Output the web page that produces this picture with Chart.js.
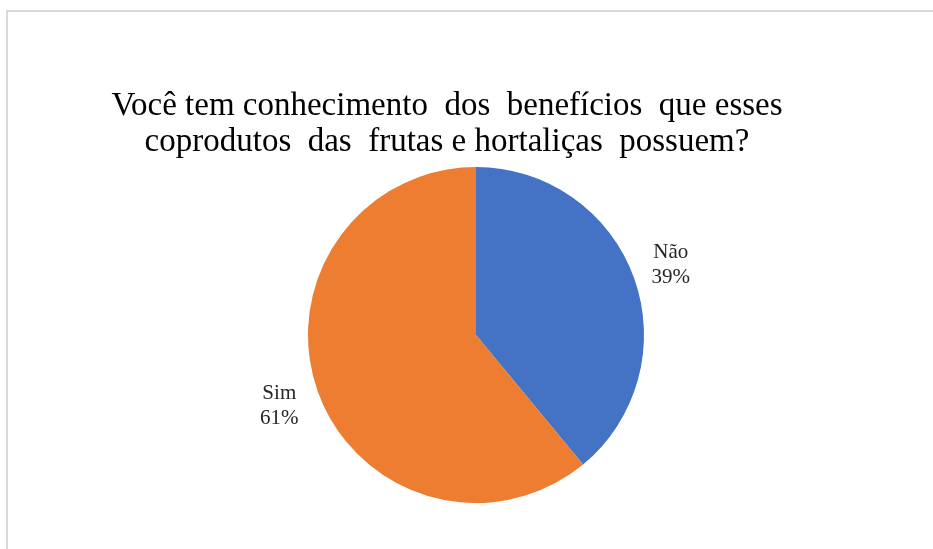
<!DOCTYPE html>
<html lang="pt-br">

<head>
    <meta charset="UTF-8">
    <title>Conhecimento dos benefícios</title>
    <script src="https://cdn.jsdelivr.net/npm/chart.js@4.4.0/dist/chart.umd.min.js"></script>
    <style>
        body {
            margin: 0;
            background: #fff;
        }

        .moldura {
            position: absolute;
            left: 6px;
            top: 10px;
            right: 0;
            bottom: 0;
            border-top: 2px solid #d9d9d9;
            border-left: 2px solid #d9d9d9;
        }

        #grafico {
            position: absolute;
            left: 0;
            top: 0;
        }
    </style>
</head>

<body>
    <div class="moldura"></div>
    <canvas id="grafico" width="933" height="549"></canvas>
</body>

</html>
<script>
    // Respostas da pergunta
    var categorias = ['Não', 'Sim'];
    var percentuais = [39, 61];
    var cores = ['#4472C4', '#ED7D31'];

    var tituloLinhas = [
        'Você tem conhecimento  dos  benefícios  que esses',
        'coprodutos  das  frutas e hortaliças  possuem?'
    ];

    // Título desenhado à mão para poder centralizar fora do centro da pizza
    var pluginTitulo = {
        id: 'titulo',
        afterDraw(chart) {
            var ctx = chart.ctx;
            ctx.save();
            ctx.fillStyle = '#000';
            ctx.font = '33px "Liberation Serif", "Times New Roman", serif';
            ctx.textAlign = 'center';
            ctx.textBaseline = 'alphabetic';
            tituloLinhas.forEach((linha, i) => {
                ctx.fillText(linha, 447, 115 + i * 36);
            });
            ctx.restore();
        }
    };

    // Rótulos "categoria / %" do lado de fora de cada fatia
    var pluginRotulos = {
        id: 'rotulos',
        afterDatasetsDraw(chart) {
            var ctx = chart.ctx;
            var meta = chart.getDatasetMeta(0);
            ctx.save();
            ctx.fillStyle = '#262626';
            ctx.font = '21px "Liberation Serif", "Times New Roman", serif';
            ctx.textAlign = 'center';
            ctx.textBaseline = 'middle';
            meta.data.forEach((arco, i) => {
                var meio = (arco.startAngle + arco.endAngle) / 2;
                var r = arco.outerRadius + 40;
                var x = arco.x + Math.cos(meio) * r;
                var y = arco.y + Math.sin(meio) * r;
                ctx.fillText(categorias[i], x - 1, y - 12);
                ctx.fillText(percentuais[i] + '%', x - 1, y + 13);
            });
            ctx.restore();
        }
    };

    var contexto = document.getElementById('grafico').getContext('2d');

    var graficoPizza = new Chart(contexto, {
        type: 'pie',
        data: {
            labels: categorias,
            datasets: [
                {
                    data: percentuais,
                    backgroundColor: cores,
                    borderWidth: 0
                }
            ]
        },
        options: {
            responsive: false,
            animation: false,
            layout: {
                padding: { top: 167, bottom: 46, left: 308, right: 289 }
            },
            plugins: {
                legend: { display: false },
                tooltip: { enabled: false },
                title: { display: false }
            }
        },
        plugins: [pluginTitulo, pluginRotulos]
    });
</script>
